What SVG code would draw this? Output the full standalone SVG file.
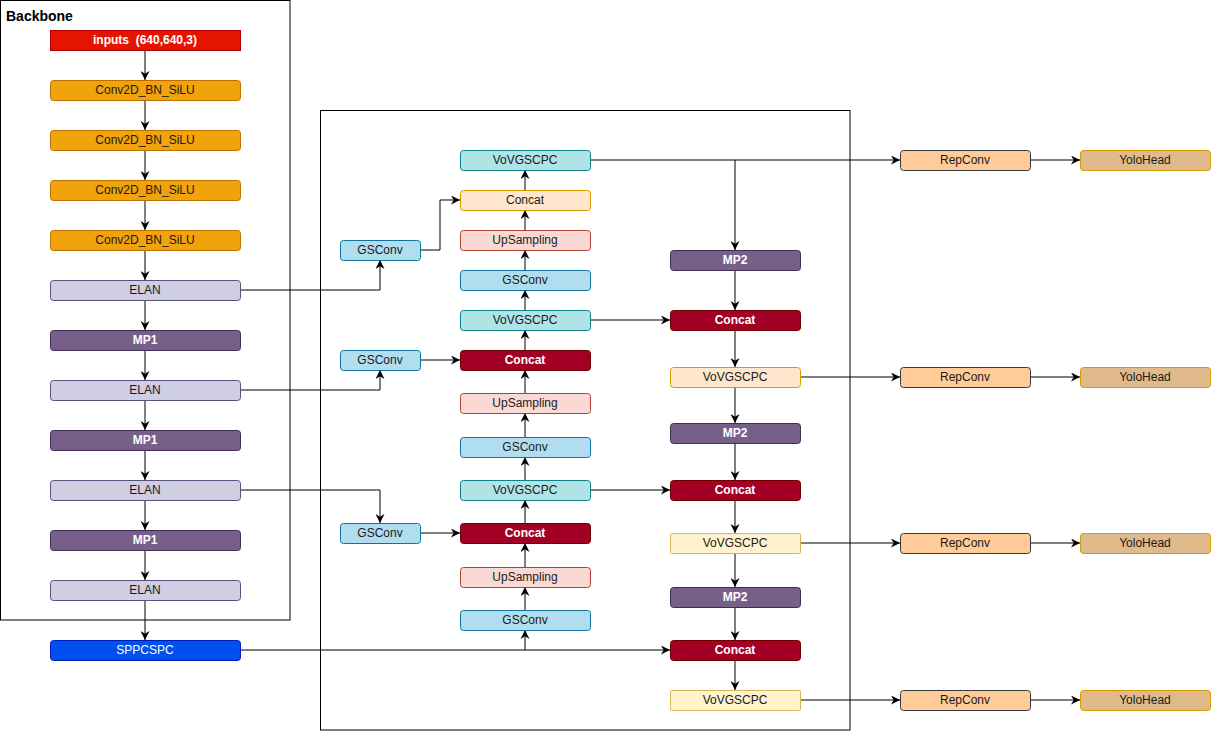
<svg xmlns="http://www.w3.org/2000/svg" width="1211" height="731" viewBox="0 0 1211 731">
<style>
text{font-family:"Liberation Sans",Arial,sans-serif;font-size:12px;text-anchor:middle;dominant-baseline:central;fill:#1a1a1a}
.w{fill:#ffffff}
.b{font-weight:bold}
.n{stroke-width:1}
.frame{fill:none;stroke:#000;stroke-width:1}
.c{fill:none;stroke:#000;stroke-width:1;marker-end:url(#arr)}
.l{fill:none;stroke:#000;stroke-width:1}
.inp{fill:#e51400;stroke:#b20000}
.conv{fill:#f0a30a;stroke:#bd7000}
.elan{fill:#d0cee2;stroke:#56517e}
.mp{fill:#76608a;stroke:#432d57}
.spp{fill:#0050ef;stroke:#001dbc}
.vov{fill:#b0e3e6;stroke:#0e8088}
.gs{fill:#b1ddf0;stroke:#10739e}
.cco{fill:#ffe6cc;stroke:#d79b00}
.up{fill:#fad9d5;stroke:#ae4132}
.ccr{fill:#a20025;stroke:#6f0000}
.vy{fill:#fff2cc;stroke:#d6b656}
.rep{fill:#ffcc99;stroke:#36393d}
.yh{fill:#e0ba8b;stroke:#d79b00}
</style>
<defs>
<marker id="arr" viewBox="0 0 10 10" refX="10" refY="5" markerWidth="9" markerHeight="9" markerUnits="userSpaceOnUse" orient="auto">
<path d="M0,0 L10,5 L0,10 L3,5 Z" fill="#000"/>
</marker>
</defs>
<rect width="1211" height="731" fill="#ffffff"/>
<g id="frames">
<rect class="frame" x="0.5" y="0.5" width="289.5" height="619.5"/>
<text x="6" y="16" class="b" style="font-size:14px;text-anchor:start;fill:#000">Backbone</text>
<rect class="frame" x="320.5" y="110.5" width="529.5" height="619.5"/>
</g>
<g id="connectors">
<line class="c" x1="145" y1="50" x2="145" y2="80"/>
<line class="c" x1="145" y1="100" x2="145" y2="130"/>
<line class="c" x1="145" y1="150" x2="145" y2="180"/>
<line class="c" x1="145" y1="200" x2="145" y2="230"/>
<line class="c" x1="145" y1="250" x2="145" y2="280"/>
<line class="c" x1="145" y1="300" x2="145" y2="330"/>
<line class="c" x1="145" y1="350" x2="145" y2="380"/>
<line class="c" x1="145" y1="400" x2="145" y2="430"/>
<line class="c" x1="145" y1="450" x2="145" y2="480"/>
<line class="c" x1="145" y1="500" x2="145" y2="530"/>
<line class="c" x1="145" y1="550" x2="145" y2="580"/>
<line class="c" x1="145" y1="600" x2="145" y2="640"/>
<polyline class="c" points="240,290 380,290 380,260"/>
<polyline class="c" points="240,390 380,390 380,370"/>
<polyline class="c" points="240,490 380,490 380,523"/>
<line class="c" x1="240" y1="650" x2="670" y2="650"/>
<line class="c" x1="525" y1="650" x2="525" y2="630"/>
<polyline class="c" points="420,250 440,250 440,200 460,200"/>
<line class="c" x1="420" y1="360" x2="460" y2="360"/>
<line class="c" x1="420" y1="533" x2="460" y2="533"/>
<line class="c" x1="525" y1="610" x2="525" y2="587"/>
<line class="c" x1="525" y1="567" x2="525" y2="543"/>
<line class="c" x1="525" y1="523" x2="525" y2="500"/>
<line class="c" x1="525" y1="480" x2="525" y2="457"/>
<line class="c" x1="525" y1="437" x2="525" y2="413"/>
<line class="c" x1="525" y1="393" x2="525" y2="370"/>
<line class="c" x1="525" y1="350" x2="525" y2="330"/>
<line class="c" x1="525" y1="310" x2="525" y2="290"/>
<line class="c" x1="525" y1="270" x2="525" y2="250"/>
<line class="c" x1="525" y1="230" x2="525" y2="210"/>
<line class="c" x1="525" y1="190" x2="525" y2="170"/>
<line class="c" x1="590" y1="160" x2="900" y2="160"/>
<line class="c" x1="735" y1="160" x2="735" y2="250"/>
<line class="c" x1="590" y1="320" x2="670" y2="320"/>
<line class="c" x1="590" y1="490" x2="670" y2="490"/>
<line class="c" x1="735" y1="270" x2="735" y2="310"/>
<line class="c" x1="735" y1="330" x2="735" y2="367"/>
<line class="c" x1="735" y1="387" x2="735" y2="423"/>
<line class="c" x1="735" y1="443" x2="735" y2="480"/>
<line class="c" x1="735" y1="500" x2="735" y2="533"/>
<line class="c" x1="735" y1="553" x2="735" y2="587"/>
<line class="c" x1="735" y1="607" x2="735" y2="640"/>
<line class="c" x1="735" y1="660" x2="735" y2="690"/>
<line class="c" x1="800" y1="377" x2="900" y2="377"/>
<line class="c" x1="800" y1="543" x2="900" y2="543"/>
<line class="c" x1="800" y1="700" x2="900" y2="700"/>
<line class="c" x1="1030" y1="160" x2="1080" y2="160"/>
<line class="c" x1="1030" y1="377" x2="1080" y2="377"/>
<line class="c" x1="1030" y1="543" x2="1080" y2="543"/>
<line class="c" x1="1030" y1="700" x2="1080" y2="700"/>
</g>
<g id="inputs"><rect class="inp" x="50.5" y="30.5" width="190" height="20"/><text x="145" y="40" class="w b">inputs&#160; (640,640,3)</text></g>
<g id="conv1"><rect class="conv" x="50.5" y="80.5" width="190" height="20" rx="3"/><text x="145" y="90">Conv2D_BN_SiLU</text></g>
<g id="conv2"><rect class="conv" x="50.5" y="130.5" width="190" height="20" rx="3"/><text x="145" y="140">Conv2D_BN_SiLU</text></g>
<g id="conv3"><rect class="conv" x="50.5" y="180.5" width="190" height="20" rx="3"/><text x="145" y="190">Conv2D_BN_SiLU</text></g>
<g id="conv4"><rect class="conv" x="50.5" y="230.5" width="190" height="20" rx="3"/><text x="145" y="240">Conv2D_BN_SiLU</text></g>
<g id="elan1"><rect class="elan" x="50.5" y="280.5" width="190" height="20" rx="3"/><text x="145" y="290">ELAN</text></g>
<g id="mp1a"><rect class="mp" x="50.5" y="330.5" width="190" height="20" rx="3"/><text x="145" y="340" class="w b">MP1</text></g>
<g id="elan2"><rect class="elan" x="50.5" y="380.5" width="190" height="20" rx="3"/><text x="145" y="390">ELAN</text></g>
<g id="mp1b"><rect class="mp" x="50.5" y="430.5" width="190" height="20" rx="3"/><text x="145" y="440" class="w b">MP1</text></g>
<g id="elan3"><rect class="elan" x="50.5" y="480.5" width="190" height="20" rx="3"/><text x="145" y="490">ELAN</text></g>
<g id="mp1c"><rect class="mp" x="50.5" y="530.5" width="190" height="20" rx="3"/><text x="145" y="540" class="w b">MP1</text></g>
<g id="elan4"><rect class="elan" x="50.5" y="580.5" width="190" height="20" rx="3"/><text x="145" y="590">ELAN</text></g>
<g id="sppcspc"><rect class="spp" x="50.5" y="640.5" width="190" height="20" rx="3"/><text x="145" y="650" class="w">SPPCSPC</text></g>
<g id="gsL1"><rect class="gs" x="340.5" y="240.5" width="80" height="20" rx="3"/><text x="380" y="250">GSConv</text></g>
<g id="gsL2"><rect class="gs" x="340.5" y="350.5" width="80" height="20" rx="3"/><text x="380" y="360">GSConv</text></g>
<g id="gsL3"><rect class="gs" x="340.5" y="523.5" width="80" height="20" rx="3"/><text x="380" y="533">GSConv</text></g>
<g id="m_vov1"><rect class="vov" x="460.5" y="150.5" width="130" height="20" rx="3"/><text x="525" y="160">VoVGSCPC</text></g>
<g id="m_concat1"><rect class="cco" x="460.5" y="190.5" width="130" height="20" rx="3"/><text x="525" y="200">Concat</text></g>
<g id="m_up1"><rect class="up" x="460.5" y="230.5" width="130" height="20" rx="3"/><text x="525" y="240">UpSampling</text></g>
<g id="m_gs1"><rect class="gs" x="460.5" y="270.5" width="130" height="20" rx="3"/><text x="525" y="280">GSConv</text></g>
<g id="m_vov2"><rect class="vov" x="460.5" y="310.5" width="130" height="20" rx="3"/><text x="525" y="320">VoVGSCPC</text></g>
<g id="m_concat2"><rect class="ccr" x="460.5" y="350.5" width="130" height="20" rx="3"/><text x="525" y="360" class="w b">Concat</text></g>
<g id="m_up2"><rect class="up" x="460.5" y="393.5" width="130" height="20" rx="3"/><text x="525" y="403">UpSampling</text></g>
<g id="m_gs2"><rect class="gs" x="460.5" y="437.5" width="130" height="20" rx="3"/><text x="525" y="447">GSConv</text></g>
<g id="m_vov3"><rect class="vov" x="460.5" y="480.5" width="130" height="20" rx="3"/><text x="525" y="490">VoVGSCPC</text></g>
<g id="m_concat3"><rect class="ccr" x="460.5" y="523.5" width="130" height="20" rx="3"/><text x="525" y="533" class="w b">Concat</text></g>
<g id="m_up3"><rect class="up" x="460.5" y="567.5" width="130" height="20" rx="3"/><text x="525" y="577">UpSampling</text></g>
<g id="m_gs3"><rect class="gs" x="460.5" y="610.5" width="130" height="20" rx="3"/><text x="525" y="620">GSConv</text></g>
<g id="r_mp1"><rect class="mp" x="670.5" y="250.5" width="130" height="20" rx="3"/><text x="735" y="260" class="w b">MP2</text></g>
<g id="r_concat1"><rect class="ccr" x="670.5" y="310.5" width="130" height="20" rx="3"/><text x="735" y="320" class="w b">Concat</text></g>
<g id="r_vov1"><rect class="cco" x="670.5" y="367.5" width="130" height="20" rx="3"/><text x="735" y="377">VoVGSCPC</text></g>
<g id="r_mp2"><rect class="mp" x="670.5" y="423.5" width="130" height="20" rx="3"/><text x="735" y="433" class="w b">MP2</text></g>
<g id="r_concat2"><rect class="ccr" x="670.5" y="480.5" width="130" height="20" rx="3"/><text x="735" y="490" class="w b">Concat</text></g>
<g id="r_vov2"><rect class="vy" x="670.5" y="533.5" width="130" height="20" rx="1"/><text x="735" y="543">VoVGSCPC</text></g>
<g id="r_mp3"><rect class="mp" x="670.5" y="587.5" width="130" height="20" rx="3"/><text x="735" y="597" class="w b">MP2</text></g>
<g id="r_concat3"><rect class="ccr" x="670.5" y="640.5" width="130" height="20" rx="3"/><text x="735" y="650" class="w b">Concat</text></g>
<g id="r_vov3"><rect class="vy" x="670.5" y="690.5" width="130" height="20" rx="1"/><text x="735" y="700">VoVGSCPC</text></g>
<g id="rep1"><rect class="rep" x="900.5" y="150.5" width="130" height="20" rx="3"/><text x="965" y="160">RepConv</text></g>
<g id="rep2"><rect class="rep" x="900.5" y="367.5" width="130" height="20" rx="3"/><text x="965" y="377">RepConv</text></g>
<g id="rep3"><rect class="rep" x="900.5" y="533.5" width="130" height="20" rx="3"/><text x="965" y="543">RepConv</text></g>
<g id="rep4"><rect class="rep" x="900.5" y="690.5" width="130" height="20" rx="3"/><text x="965" y="700">RepConv</text></g>
<g id="yolo1"><rect class="yh" x="1080.5" y="150.5" width="130" height="20" rx="3"/><text x="1145" y="160">YoloHead</text></g>
<g id="yolo2"><rect class="yh" x="1080.5" y="367.5" width="130" height="20" rx="3"/><text x="1145" y="377">YoloHead</text></g>
<g id="yolo3"><rect class="yh" x="1080.5" y="533.5" width="130" height="20" rx="3"/><text x="1145" y="543">YoloHead</text></g>
<g id="yolo4"><rect class="yh" x="1080.5" y="690.5" width="130" height="20" rx="3"/><text x="1145" y="700">YoloHead</text></g>
</svg>
